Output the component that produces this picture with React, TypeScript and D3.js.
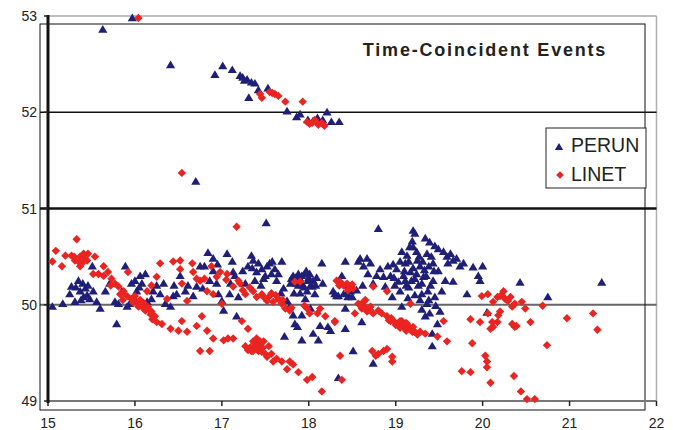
import React from 'react';
import * as d3 from 'd3';

const xTicks = [15, 16, 17, 18, 19, 20, 21, 22];
const yTicks = [49, 50, 51, 52, 53];
const titleText = 'Time-Coincident Events';
const seriesNames = ['PERUN', 'LINET'];

const perun: [number, number][] = [
  [15.63, 52.86], [15.97, 52.98], [16.41, 52.49], [16.70, 51.28], [16.92, 52.39], [17.01, 52.48],
  [17.12, 52.44], [17.21, 52.38], [17.24, 52.36], [17.29, 52.34], [17.38, 52.30], [17.42, 52.23],
  [17.31, 52.15], [17.53, 52.25], [17.75, 52.01], [17.86, 51.95], [17.90, 51.98], [18.10, 51.94],
  [18.21, 52.00], [18.26, 51.90], [18.35, 51.90], [17.99, 51.92], [17.26, 52.33], [17.34, 52.31],
  [18.16, 51.92], [18.05, 51.91],
  [15.05, 49.98], [15.17, 50.01], [15.25, 50.11], [15.27, 50.19], [15.31, 50.03], [15.35, 50.25],
  [15.37, 50.14], [15.41, 50.08], [15.43, 50.17], [15.46, 50.20], [15.48, 50.06], [15.51, 50.40],
  [15.52, 50.14], [15.56, 50.03], [15.60, 49.96], [15.66, 50.14], [15.71, 50.22], [15.77, 50.03],
  [15.79, 49.80], [15.81, 50.01], [15.85, 50.14], [15.89, 50.40], [15.91, 49.98], [15.94, 50.01],
  [15.96, 50.22], [16.00, 50.25], [16.02, 50.14], [16.06, 50.30], [16.08, 50.22], [16.12, 50.32],
  [16.14, 50.03], [16.19, 50.06], [16.21, 50.14], [16.29, 50.11], [16.33, 50.22], [16.35, 50.01],
  [16.41, 49.98], [16.44, 50.09], [16.48, 50.11], [16.52, 50.30], [16.58, 50.14], [16.61, 50.20],
  [16.67, 50.09], [16.71, 50.19], [16.75, 50.40], [16.78, 50.17], [16.80, 50.40], [16.84, 50.54],
  [16.86, 50.25], [16.90, 50.48], [16.94, 50.22], [16.96, 50.11], [17.00, 50.04], [17.02, 49.94],
  [17.06, 50.53], [17.09, 50.11], [17.12, 50.45], [17.13, 50.34], [17.17, 49.88], [17.19, 50.08],
  [17.24, 50.35], [17.30, 50.40], [17.34, 50.51], [17.36, 50.46], [17.40, 50.34], [17.42, 50.43],
  [17.46, 50.37], [17.48, 50.27], [17.51, 50.85], [17.52, 50.40], [17.55, 50.43], [17.57, 50.32],
  [17.61, 50.37], [17.63, 50.25], [17.65, 50.32], [17.69, 50.45], [17.71, 50.17], [17.72, 49.67],
  [17.75, 50.04], [17.78, 49.98], [17.80, 50.27], [17.82, 49.89], [17.84, 49.80], [17.87, 49.77],
  [17.88, 50.32], [17.90, 50.27], [17.92, 49.89], [17.92, 49.63], [17.93, 50.20], [17.95, 50.32],
  [17.98, 50.14], [17.99, 50.25], [18.01, 50.32], [18.04, 50.19], [18.05, 50.25], [18.05, 49.70],
  [18.07, 50.11], [18.11, 49.63], [18.13, 49.78], [18.15, 50.43], [18.16, 50.22], [18.22, 49.77],
  [18.25, 49.73], [18.28, 50.14], [18.32, 50.09], [18.34, 49.24], [17.86, 50.22], [17.96, 50.06],
  [18.02, 49.96], [17.83, 50.12], [18.09, 50.28], [17.68, 50.12], [17.45, 50.20], [17.27, 50.22],
  [18.30, 50.11], [18.34, 50.09], [18.38, 50.30], [18.40, 50.11], [18.42, 50.45], [18.44, 50.12],
  [18.45, 50.08], [18.48, 50.14], [18.50, 50.08], [18.51, 49.52], [18.42, 49.96], [18.42, 49.75],
  [18.57, 50.45], [18.59, 50.48], [18.61, 49.82], [18.63, 50.40], [18.67, 50.48], [18.71, 50.43],
  [18.74, 49.39], [18.74, 50.22], [18.78, 50.30], [18.80, 50.79], [18.82, 50.37], [18.86, 50.29],
  [18.88, 50.19], [18.91, 50.40], [18.94, 50.30], [18.96, 50.08], [18.99, 50.20], [19.01, 50.37],
  [19.05, 50.14], [19.07, 49.98], [19.11, 50.25], [19.11, 50.43], [19.13, 50.51], [19.17, 50.34],
  [19.19, 50.66], [19.20, 50.77], [19.22, 50.74], [19.20, 50.60], [19.22, 50.27], [19.25, 50.46],
  [19.26, 50.20], [19.28, 50.40], [19.30, 50.11], [19.32, 50.29], [19.34, 50.69], [19.36, 50.53],
  [19.36, 50.01], [19.37, 50.14], [19.39, 50.65], [19.39, 49.91], [19.42, 49.70], [19.42, 49.57],
  [19.43, 50.43], [19.43, 50.25], [19.45, 50.61], [19.45, 50.08], [19.48, 49.80], [19.49, 50.58],
  [19.49, 50.35], [19.51, 49.93], [19.53, 50.14], [19.55, 50.55], [19.57, 50.25], [19.59, 50.50],
  [19.60, 50.43], [19.63, 50.53], [19.66, 50.46], [19.66, 50.24], [19.70, 50.48], [19.74, 50.40],
  [19.78, 50.43], [19.82, 50.11], [19.89, 50.39], [19.95, 50.30], [19.97, 50.25], [20.00, 50.40],
  [20.05, 49.92], [20.43, 50.23], [20.75, 50.08], [21.37, 50.23], [19.15, 50.18], [19.09, 50.30],
  [19.28, 50.05], [19.33, 50.36], [19.40, 50.20], [19.03, 50.24], [18.97, 50.42], [19.24, 50.55],
  [19.46, 49.99], [19.14, 50.07],
  [17.85, 50.28], [17.88, 50.20], [17.92, 50.30], [17.95, 50.18], [18.00, 50.28], [18.02, 50.20],
  [17.97, 50.35], [17.82, 50.30], [18.08, 50.20], [17.90, 50.12], [17.79, 50.22],
  [19.05, 50.45], [19.10, 50.35], [19.15, 50.45], [19.20, 50.38], [19.18, 50.25], [19.24, 50.32],
  [19.30, 50.22], [19.27, 50.50], [19.31, 50.45], [19.35, 50.30], [19.38, 50.40], [19.41, 50.50],
  [19.44, 50.35], [19.30, 49.95], [19.34, 49.88], [19.38, 50.05], [19.22, 50.10], [19.12, 50.20],
  [18.98, 50.28], [19.07, 50.55], [19.16, 50.60],
  [15.32, 50.18], [15.40, 50.22], [15.45, 50.10], [15.38, 50.05], [16.00, 50.05], [16.05, 50.18],
  [16.25, 50.20], [16.45, 50.20], [16.90, 50.35], [16.95, 50.42], [17.10, 50.22], [17.15, 50.30],
  [17.35, 50.38], [17.38, 50.25], [17.58, 50.45], [17.50, 50.30],
  [18.55, 50.15], [18.62, 50.20], [18.68, 50.32], [18.45, 50.20],
];

const linet: [number, number][] = [
  [16.04, 52.98], [16.54, 51.37], [17.44, 52.19], [17.46, 52.15], [17.58, 52.20], [17.61, 52.19],
  [17.65, 52.17], [17.73, 52.11], [17.93, 52.11], [17.98, 51.90], [18.04, 51.89], [18.07, 51.92],
  [18.11, 51.87], [18.15, 51.89], [18.18, 51.86], [17.55, 52.21], [18.01, 51.88],
  [15.05, 50.45], [15.09, 50.56], [15.16, 50.40], [15.20, 50.51], [15.27, 50.51], [15.33, 50.68],
  [15.31, 50.46], [15.37, 50.50], [15.39, 50.43], [15.41, 50.53], [15.46, 50.53], [15.54, 50.50],
  [15.37, 50.40], [15.45, 50.46], [15.52, 50.32], [15.58, 50.32], [15.64, 50.40], [15.64, 50.30],
  [15.69, 50.34], [15.73, 50.27], [15.77, 50.22], [15.81, 50.19], [15.83, 50.11], [15.87, 50.14],
  [15.91, 50.09], [15.92, 50.34], [15.96, 50.06], [16.00, 50.09], [16.02, 50.03], [16.04, 49.98],
  [16.08, 49.99], [16.12, 49.94], [16.15, 49.98], [16.19, 49.93], [16.23, 49.88], [16.25, 49.82],
  [16.31, 49.80], [16.29, 50.43], [16.25, 50.29], [16.41, 49.75], [16.44, 50.45], [16.52, 50.46],
  [16.52, 50.37], [16.54, 49.83], [16.50, 49.73], [16.60, 49.72], [16.66, 50.43], [16.67, 50.34],
  [16.71, 49.78], [16.75, 50.25], [16.75, 49.52], [16.77, 49.88], [16.83, 49.73], [16.86, 49.52],
  [16.80, 50.27], [16.88, 50.40], [16.90, 50.11], [16.90, 49.65], [16.94, 50.29], [16.98, 50.34],
  [17.02, 49.63], [17.06, 50.32], [17.07, 49.65], [17.13, 49.65], [17.17, 50.81], [17.19, 50.25],
  [17.21, 50.22], [17.23, 49.83], [17.27, 50.11], [17.30, 49.75], [17.27, 49.57], [17.30, 49.53],
  [17.34, 49.52], [17.36, 49.62], [17.38, 49.55], [17.42, 49.52], [17.44, 49.57], [17.40, 49.65],
  [17.46, 49.51], [17.48, 49.62], [17.50, 49.49], [17.54, 49.57], [17.52, 49.46], [17.57, 49.49],
  [17.59, 49.41], [17.63, 49.44], [17.69, 49.41], [17.75, 49.33], [17.78, 49.41], [17.82, 49.38],
  [17.88, 49.30], [17.98, 49.22], [18.04, 49.25], [18.15, 49.10], [17.36, 50.14], [17.40, 50.08],
  [17.46, 50.11], [17.52, 50.04], [17.55, 50.09], [17.59, 50.03], [17.65, 50.06], [17.69, 50.01],
  [17.73, 49.96], [17.78, 49.94], [17.84, 50.24], [17.90, 50.24], [17.98, 49.96], [18.01, 49.91],
  [18.10, 49.91], [18.13, 49.96], [18.19, 49.88], [18.30, 49.82], [18.32, 50.25], [17.00, 50.01],
  [17.13, 50.19], [16.60, 50.04], [16.37, 50.06], [16.14, 50.14], [16.19, 50.20], [16.71, 50.27],
  [16.83, 50.14], [16.54, 50.22], [15.72, 50.20], [15.86, 50.05], [16.06, 50.05], [16.10, 50.02],
  [17.32, 50.18], [17.62, 50.10], [17.24, 50.15], [17.05, 50.26],
  [18.36, 50.24], [18.44, 50.22], [18.48, 50.19], [18.51, 50.17], [18.40, 50.20], [18.30, 49.83],
  [18.36, 49.47], [18.38, 49.22], [18.57, 50.01], [18.61, 49.96], [18.63, 50.03], [18.67, 49.93],
  [18.71, 49.98], [18.53, 49.91], [18.74, 50.19], [18.74, 49.91], [18.80, 49.94], [18.84, 49.91],
  [18.90, 50.14], [18.90, 49.88], [18.94, 49.83], [18.99, 49.82], [19.03, 49.80], [19.07, 49.83],
  [19.09, 49.77], [19.13, 49.80], [19.17, 49.75], [19.20, 49.77], [19.22, 49.72], [19.28, 49.72],
  [19.34, 49.70], [19.17, 50.01], [19.48, 49.67], [19.59, 49.62], [19.55, 49.83], [18.73, 49.52],
  [18.80, 49.49], [18.86, 49.52], [18.90, 49.54], [18.96, 49.46], [18.96, 49.41], [18.77, 49.47],
  [19.76, 49.31], [19.86, 49.30], [19.88, 49.60], [19.86, 49.85], [19.97, 49.82], [20.03, 49.47],
  [20.05, 49.41], [20.05, 49.35], [20.09, 49.19], [19.99, 50.09], [20.06, 50.11], [20.12, 50.03],
  [20.17, 50.08], [20.20, 50.09], [20.24, 50.14], [20.26, 50.06], [20.29, 50.04], [20.32, 50.08],
  [20.22, 50.10], [20.34, 49.98], [20.37, 50.01], [20.06, 49.91], [20.11, 49.82], [20.12, 49.77],
  [20.09, 49.75], [20.17, 49.82], [20.18, 49.89], [20.20, 49.93], [20.34, 49.80], [20.37, 49.77],
  [20.39, 49.78], [20.45, 50.03], [20.49, 49.96], [20.55, 49.82], [20.36, 49.26], [20.44, 49.10],
  [20.51, 49.02], [20.60, 49.02], [20.69, 49.99], [20.74, 49.58], [20.97, 49.86], [21.27, 49.91],
  [21.32, 49.74], [18.92, 49.84], [19.05, 49.76], [19.12, 49.73], [19.25, 49.69], [18.65, 50.05],
  [17.38, 49.60], [17.41, 49.57], [17.44, 49.62], [17.33, 49.56], [17.47, 49.55], [17.36, 49.52],
  [19.00, 49.79], [19.05, 49.83], [19.10, 49.78], [19.15, 49.77], [19.19, 49.72], [19.12, 49.81],
  [18.95, 49.86], [15.30, 50.50], [15.42, 50.48], [15.35, 50.45],
  [17.95, 49.99], [17.80, 49.97], [17.70, 50.05], [17.57, 50.12], [17.48, 50.08],
  [16.18, 49.90], [16.20, 49.85], [16.10, 49.96], [15.98, 50.02], [15.85, 50.10],
  [18.45, 50.15], [18.35, 50.20], [18.50, 50.21], [18.60, 49.99], [18.65, 49.97], [18.70, 49.95],
];

export default function App() {
  const W = 673;
  const H = 430;
  const x = d3.scaleLinear().domain([15, 22]).range([48, 656.5]);
  const y = d3.scaleLinear().domain([49, 53]).range([401, 16]);
  const tri = 'M0,-4.5L4.6,3.2L-4.6,3.2Z';
  const dia = 'M0,-4.2L4.2,0L0,4.2L-4.2,0Z';
  const font = "'Liberation Sans', Arial, sans-serif";
  const blue = '#1f1f78';
  const red = '#ea2420';
  const gridStyle: Record<number, { stroke: string; w: number; x0: number }> = {
    53: { stroke: '#a8a8a8', w: 1.5, x0: 48 },
    52: { stroke: '#111', w: 1.4, x0: 40 },
    51: { stroke: '#111', w: 2.6, x0: 40 },
    50: { stroke: '#666', w: 2, x0: 40 },
  };
  return (
    <svg width={W} height={H} style={{ position: 'absolute', left: 0, top: 0, background: '#fff' }}>
      <rect x={0} y={0} width={W} height={H} fill="#fff" />
      <line x1={x(22)} x2={x(22)} y1={y(53)} y2={y(49)} stroke="#b0b0b0" strokeWidth={1.5} />
      {yTicks.filter((t) => t !== 49).map((t) => (
        <line key={t} x1={gridStyle[t].x0} x2={x(22)} y1={y(t)} y2={y(t)} stroke={gridStyle[t].stroke} strokeWidth={gridStyle[t].w} />
      ))}
      <rect x={40} y={24} width={605} height={386} fill="none" stroke="#111" strokeWidth={1} />
      <line x1={x(15)} x2={x(22)} y1={y(49)} y2={y(49)} stroke="#777" strokeWidth={2} />
      {xTicks.map((t) => (
        <g key={t}>
          <line x1={x(t)} x2={x(t)} y1={y(49)} y2={y(49) + 5} stroke="#222" strokeWidth={1.5} />
          <text x={x(t)} y={428} textAnchor="middle" fontFamily={font} fontSize={14} fill="#222">{t}</text>
        </g>
      ))}
      <line x1={x(15)} x2={x(15)} y1={y(53) - 1} y2={y(49) + 2} stroke="#111" strokeWidth={3} />
      {yTicks.map((t) => (
        <g key={t}>
          <line x1={x(15) - 4} x2={x(15)} y1={y(t)} y2={y(t)} stroke="#222" strokeWidth={1.5} />
          <text x={37} y={y(t) + 5} textAnchor="end" fontFamily={font} fontSize={14} fill="#222">{t}</text>
        </g>
      ))}
      <g>
        {perun.map((d, i) => (
          <path key={'p' + i} d={tri} transform={`translate(${x(d[0])},${y(d[1])})`} fill={blue} />
        ))}
      </g>
      <g>
        {linet.map((d, i) => (
          <path key={'l' + i} d={dia} transform={`translate(${x(d[0])},${y(d[1])})`} fill={red} />
        ))}
      </g>
      <text x={485} y={56} textAnchor="middle" fontFamily={font} fontWeight="bold" fontSize={18} letterSpacing={1.8} fill="#222">{titleText}</text>
      <rect x={546} y={128} width={100} height={60} fill="#fff" stroke="#222" strokeWidth={1} />
      <path d="M0,-4L4.2,3L-4.2,3Z" transform="translate(559,147)" fill={blue} />
      <text x={571} y={152} fontFamily={font} fontSize={19.5} fill="#222">{seriesNames[0]}</text>
      <path d="M0,-3.8L3.8,0L0,3.8L-3.8,0Z" transform="translate(560,175)" fill={red} />
      <text x={571} y={181} fontFamily={font} fontSize={19.5} fill="#222">{seriesNames[1]}</text>
    </svg>
  );
}
